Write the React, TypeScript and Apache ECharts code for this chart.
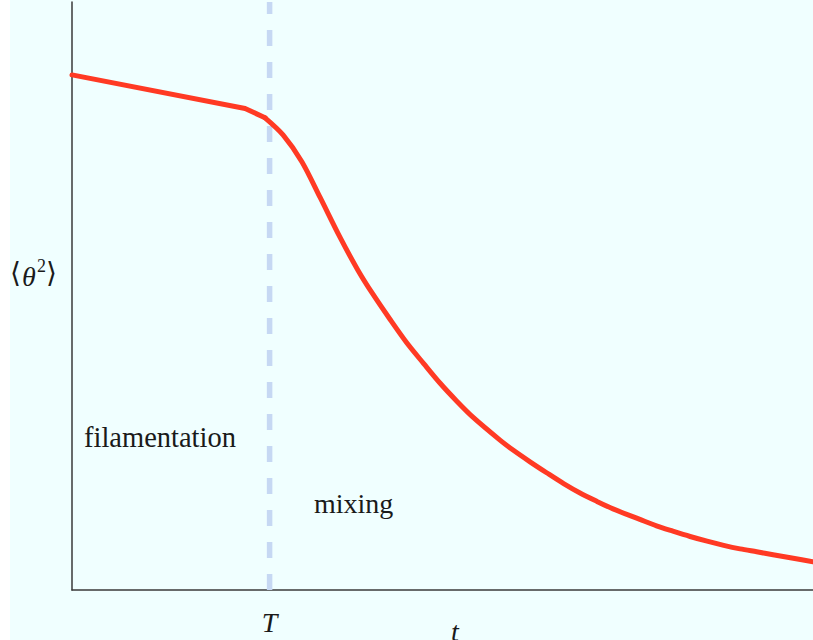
import React, { useEffect, useRef } from "react";
import * as echarts from "echarts";

// time values (T = 1) and mean-square scalar values
const tValues = [0, 0.876, 0.977, 1.068, 1.164, 1.255, 1.356, 1.447, 1.523, 1.61, 1.695, 1.78, 1.862, 1.945, 2.029, 2.166, 2.232, 2.318, 2.404, 2.488, 2.571, 2.655, 2.738, 2.874, 2.958, 3.041, 3.128, 3.214, 3.298, 3.381, 3.465, 3.548, 3.65, 3.75];
const thetaValues = [0.876, 0.819, 0.803, 0.774, 0.728, 0.668, 0.6, 0.544, 0.503, 0.46, 0.42, 0.385, 0.352, 0.322, 0.294, 0.255, 0.238, 0.218, 0.199, 0.181, 0.165, 0.151, 0.138, 0.12, 0.109, 0.1, 0.091, 0.083, 0.076, 0.07, 0.065, 0.06, 0.054, 0.048];
const tMarker = 1;
const tMarkerLabel = "T";
const tMax = 3.75;
const yMax = 1;
const regionLabels = ["filamentation", "mixing"];
// index where the straight filamentation segment ends and the smooth decay begins
const breakIndex = 2;

const SERIF = "'Liberation Serif', 'DejaVu Serif', serif";

export default function App() {
  const ref = useRef<HTMLDivElement>(null);
  useEffect(() => {
    if (!ref.current) return;
    const chart = echarts.init(ref.current, null, { renderer: "svg" });
    const curve = tValues.map((t, i) => [t, thetaValues[i]]);
    const lineStyle = { color: "#FF3A24", width: 5, cap: "round", join: "round" };
    chart.setOption({
      animation: false,
      backgroundColor: "#F0FFFF",
      grid: { left: 62, right: 0, top: 2, bottom: 50 },
      xAxis: {
        type: "value",
        min: 0,
        max: tMax,
        axisLine: { show: true, lineStyle: { color: "#3a3a3a", width: 1.5 } },
        axisTick: { show: false },
        splitLine: { show: false },
        axisLabel: {
          customValues: [tMarker],
          formatter: () => tMarkerLabel,
          fontFamily: SERIF,
          fontStyle: "italic",
          fontSize: 28,
          color: "#1a1a1a",
          margin: 18,
        },
      },
      yAxis: {
        type: "value",
        min: 0,
        max: yMax,
        axisLine: { show: true, lineStyle: { color: "#3a3a3a", width: 1.5 } },
        axisTick: { show: false },
        splitLine: { show: false },
        axisLabel: { show: false },
      },
      series: [
        {
          type: "line",
          z: 1,
          data: [
            [tMarker, 0],
            [tMarker, yMax],
          ],
          symbol: "none",
          lineStyle: { color: "#C6D8F3", width: 5.5, type: [16, 16] },
        },
        {
          type: "line",
          z: 2,
          data: curve.slice(0, breakIndex + 1),
          symbol: "none",
          smooth: false,
          lineStyle,
        },
        {
          type: "line",
          z: 2,
          data: curve.slice(breakIndex),
          symbol: "none",
          smooth: 0.3,
          lineStyle,
        },
      ],
      graphic: [
        { type: "text", x: 74, y: 437, style: { text: regionLabels[0], fontFamily: SERIF, fontSize: 28.5, fill: "#1a1a1a", verticalAlign: "middle", align: "left" } },
        { type: "text", x: 304, y: 503, style: { text: regionLabels[1], fontFamily: SERIF, fontSize: 28, fill: "#1a1a1a", verticalAlign: "middle", align: "left" } },
        { type: "text", x: 445, y: 631, style: { text: "t", fontFamily: SERIF, fontStyle: "italic", fontSize: 28, fill: "#1a1a1a", verticalAlign: "middle", align: "center" } },
        { type: "text", x: 0, y: 272, style: { text: "⟨", fontFamily: SERIF, fontSize: 28, fill: "#1a1a1a", verticalAlign: "middle", align: "left" } },
        { type: "text", x: 12, y: 276, style: { text: "θ", fontFamily: SERIF, fontStyle: "italic", fontSize: 28, fill: "#1a1a1a", verticalAlign: "middle", align: "left" } },
        { type: "text", x: 27, y: 266, style: { text: "2", fontFamily: SERIF, fontSize: 18, fill: "#1a1a1a", verticalAlign: "middle", align: "left" } },
        { type: "text", x: 36, y: 272, style: { text: "⟩", fontFamily: SERIF, fontSize: 28, fill: "#1a1a1a", verticalAlign: "middle", align: "left" } },
      ],
    });
    return () => chart.dispose();
  }, []);
  return (
    <div
      ref={ref}
      style={{ position: "absolute", left: 10, top: 0, width: 803, height: 640 }}
    />
  );
}
